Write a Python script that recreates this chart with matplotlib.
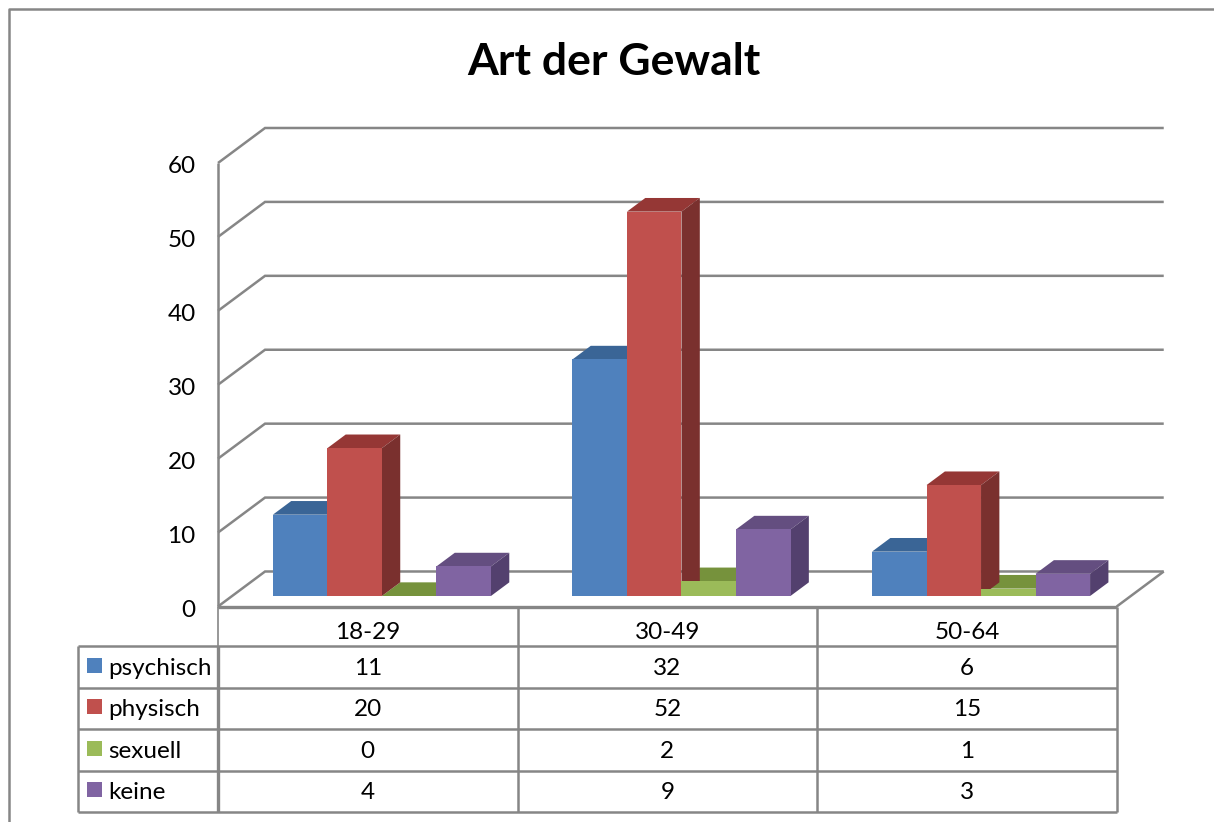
#!/usr/bin/env python3
"""Art der Gewalt: Excel-style 3D clustered columns with a data table underneath."""
import matplotlib
matplotlib.use("Agg")
import matplotlib.pyplot as plt
from matplotlib.transforms import ScaledTranslation, blended_transform_factory

plt.rcParams["font.family"] = ["Lato", "DejaVu Sans"]
plt.rcParams["lines.solid_capstyle"] = "butt"

title = "Art der Gewalt"
categories = ["18-29", "30-49", "50-64"]
series_names = ["psychisch", "physisch", "sexuell", "keine"]
psychisch = [11, 32, 6]
physisch = [20, 52, 15]
sexuell = [0, 2, 1]
keine = [4, 9, 3]
y_ticks = [0, 10, 20, 30, 40, 50, 60]

series = [psychisch, physisch, sexuell, keine]
front_cols = ["#4F81BD", "#C0504D", "#9BBB59", "#8064A2"]
top_cols = ["#3A6596", "#953735", "#76923C", "#644E80"]
side_cols = ["#2F5480", "#7A302E", "#607A30", "#53406E"]

W, H = 1214, 822
LINE = "#868686"
LW = 1.8
FS = 17.5

# oblique depth: one depth unit = 47 px right and 35 px up
DX = 47 / 299.3
DY = 35 / 7.39
BAR_W = 0.182
D0, D1 = 0.30, 0.69


def skew(x, y, d):
    return x + d * DX, y + d * DY


fig = plt.figure(figsize=(W / 100, H / 100), dpi=100)

# pixel overlay for the frame and the table grid
px = fig.add_axes([0, 0, 1, 1], zorder=1)
px.set_xlim(0, W)
px.set_ylim(H, 0)
px.axis("off")
px.patch.set_alpha(0)

ax = fig.add_axes([218 / W, 1 - 606.5 / H, (1116.7 - 218) / W, (606.5 - 163) / H], zorder=2)
ax.set_xlim(0, 3)
ax.set_ylim(0, 60)
ax.patch.set_alpha(0)
for s in ax.spines.values():
    s.set_visible(False)
ax.set_xticks([])
ax.set_yticks(y_ticks)
ax.tick_params(axis="y", length=0, pad=16, labelsize=FS, labelcolor="black")
nudge = ScaledTranslation(0, -1.5 / 100, fig.dpi_scale_trans)
for lab in ax.get_yticklabels():
    lab.set_transform(lab.get_transform() + nudge)

# walls and floor
for v in y_ticks:
    x0, y0 = skew(0, v, 0)
    x1, y1 = skew(0, v, 1)
    x2, y2 = skew(3, v, 1)
    ax.plot([x0, x1, x2], [y0, y1, y2], color=LINE, lw=LW, clip_on=False, zorder=1,
            solid_joinstyle="miter")
ax.plot([0, 0], [0, 60], color=LINE, lw=LW, clip_on=False, zorder=1)
fx, fy = skew(3, 0, 1)
ax.plot([3, fx], [0, fy], color=LINE, lw=LW, clip_on=False, zorder=1)
ax.plot([0, 3], [0, 0], color=LINE, lw=2.4, clip_on=False, zorder=1)

# bars: tops first, then sides, then fronts, so that neighbours overlap correctly
for k, vals in enumerate(series):
    for i, v in enumerate(vals):
        left = i + 0.5 - 2 * BAR_W + k * BAR_W
        a = skew(left, v, D0)
        b = skew(left + BAR_W, v, D0)
        c = skew(left + BAR_W, v, D1)
        e = skew(left, v, D1)
        ax.fill(*zip(a, b, c, e), color=top_cols[k], lw=0, clip_on=False, zorder=2)
for k, vals in enumerate(series):
    for i, v in enumerate(vals):
        left = i + 0.5 - 2 * BAR_W + k * BAR_W
        a = skew(left + BAR_W, 0, D0)
        b = skew(left + BAR_W, v, D0)
        c = skew(left + BAR_W, v, D1)
        e = skew(left + BAR_W, 0, D1)
        ax.fill(*zip(a, b, c, e), color=side_cols[k], lw=0, clip_on=False, zorder=3)
for k, vals in enumerate(series):
    for i, v in enumerate(vals):
        left = i + 0.5 - 2 * BAR_W + k * BAR_W
        a = skew(left, 0, D0)
        b = skew(left + BAR_W, 0, D0)
        c = skew(left + BAR_W, v, D0)
        e = skew(left, v, D0)
        ax.fill(*zip(a, b, c, e), color=front_cols[k], lw=0, clip_on=False, zorder=4)

# outer frame, runs off the picture on the right and at the bottom
px.plot([9, 9, W + 5], [H + 5, 9, 9], color=LINE, lw=LW, clip_on=False)

fig.text(614 / W, 1 - 62 / H, title, fontsize=32, fontweight="bold", ha="center", va="center")

# data table
row_y = [606.5, 646, 687.5, 729, 770.5, 812]
col_x = [218, 518, 817, 1116.7]
for y in row_y[1:]:
    px.plot([77.5, col_x[-1]], [y, y], color=LINE, lw=LW)
for x in col_x[1:]:
    px.plot([x, x], [row_y[0], row_y[-1]], color=LINE, lw=LW)
px.plot([218, 218], [row_y[0], row_y[1]], color=LINE, lw=1.2)
px.plot([218, 218], [row_y[1], row_y[-1]], color=LINE, lw=2.4)
px.plot([77.5, 77.5], [row_y[1], row_y[-1]], color=LINE, lw=LW)

tr = blended_transform_factory(ax.transData, px.transData)
for i, cat in enumerate(categories):
    ax.text(i + 0.5, (row_y[0] + row_y[1]) / 2 + 6, cat, transform=tr, fontsize=FS,
            ha="center", va="center", clip_on=False)
for k, name in enumerate(series_names):
    yc = (row_y[k + 1] + row_y[k + 2]) / 2
    px.fill([87, 102, 102, 87], [yc - 9, yc - 9, yc + 6, yc + 6], color=front_cols[k], lw=0)
    px.text(108.5, yc + 1.5, name, fontsize=FS, ha="left", va="center")
    for i, v in enumerate(series[k]):
        ax.text(i + 0.5, yc + 1.5, str(v), transform=tr, fontsize=FS, ha="center", va="center",
                clip_on=False)

fig.savefig("out.png", dpi=100)
